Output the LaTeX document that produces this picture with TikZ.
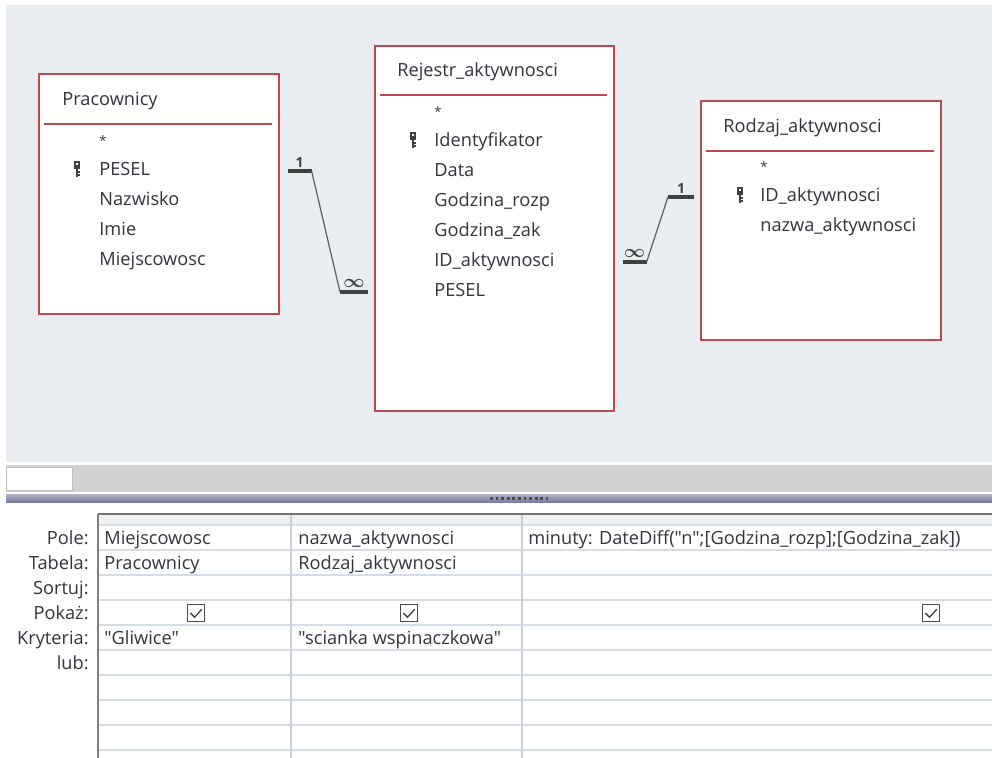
\documentclass[tikz,border=0pt]{standalone}
\usepackage{amsmath}
\usepackage{fontspec}
\setmainfont{Open Sans}[Ligatures=TeXOff]
\usetikzlibrary{positioning}

\definecolor{canvas}{HTML}{E9ECF0}
\definecolor{tblred}{HTML}{B94A50}
\definecolor{txt}{HTML}{33333F}
\definecolor{relgrey}{HTML}{404040}
\definecolor{bandgrey}{HTML}{D1D1D1}
\definecolor{splitlight}{HTML}{ABABC6}
\definecolor{splitdark}{HTML}{74749A}
\definecolor{rowline}{HTML}{D5DBE8}
\definecolor{colline}{HTML}{C9CED8}
\definecolor{gridhead}{HTML}{F0F0F0}

\begin{document}
\begin{tikzpicture}[
  x=0.5pt, y=-0.5pt,
  font=\fontsize{9.1}{11}\selectfont,
  every node/.style={text=txt},
  tbl/.style={draw=tblred, line width=0.8pt, fill=white, anchor=north west, inner sep=0, minimum width=120pt},
  tbltitle/.style={anchor=west, inner sep=0},
  fld/.style={anchor=west, inner sep=0, text height=6.6pt, text depth=1.9pt},
  starfld/.style={fld, font=\fontsize{6.5}{7}\selectfont},
  seprule/.style={draw=tblred, line width=0.8pt},
  bar/.style={draw=relgrey, line width=2.2pt},
  rel/.style={draw=relgrey!85, line width=0.6pt},
  card/.style={font=\fontsize{7}{7}\selectfont\bfseries, text=relgrey, inner sep=0.8pt},
  manycard/.style={card, font=\fontsize{9}{9}\selectfont, inner sep=1.3pt},
  rowlabel/.style={anchor=east, inner sep=0, text height=6.6pt, text depth=1.9pt},
  cell/.style={anchor=west, inner sep=0, text height=6.6pt, text depth=1.9pt},
  chk/.style={draw=black!70, line width=0.75pt, fill=white, minimum size=8.5pt, inner sep=0,
    path picture={\draw[black!75, line width=0.65pt]
      ([xshift=-2.8pt]path picture bounding box.center) -- ++(2.1pt,-2.1pt) -- ++(3.6pt,4pt);}},
  keyicon/.pic={
    \fill[relgrey] (-3.2,-8.5) rectangle (3.2,-1);
    \fill[white] (-1,-7) rectangle (1,-5.3);
    \fill[relgrey] (-1.3,-1) rectangle (1.3,7.5);
    \fill[relgrey] (1.3,1.5) rectangle (3.3,2.9);
    \fill[relgrey] (1.3,4.4) rectangle (3.3,5.8);
  },
]
\useasboundingbox (0,0) rectangle (992,758);

% Design area
\fill[canvas] (6,5) rectangle (992,462);
\fill[bandgrey] (6,465) rectangle (992,492);
\draw[fill=white, draw=black!25] (6,467) rectangle (72,490);
\shade[top color=splitlight, bottom color=splitdark] (6,495) rectangle (992,503);
\draw[black!70, line width=1.5pt, dash pattern=on 1.4pt off 1.4pt] (490,498.5) -- (548,498.5);

% Tables
\node[tbl, minimum height=120pt] (prac) at (38,73) {};
\node[tbl, minimum height=182.5pt, minimum width=119.5pt] (rej) at (374,45) {};
\node[tbl, minimum height=119.5pt] (rodz) at (700,100) {};

% Pracownicy
\node[tbltitle] (prac-title) at (62,101) {Pracownicy};
\draw[seprule] (44,124) -- (272,124);
\node[starfld] (prac-star) at (99,141) {*};
\node[fld, below=15pt of prac-star.west, anchor=west] (prac-pesel) {PESEL};
\node[fld, below=15pt of prac-pesel.west, anchor=west] (prac-nazw) {Nazwisko};
\node[fld, below=15pt of prac-nazw.west, anchor=west] (prac-imie) {Imie};
\node[fld, below=15pt of prac-imie.west, anchor=west] (prac-miej) {Miejscowosc};
\pic at (77,170) {keyicon};

% Rejestr_aktywnosci
\node[tbltitle] (rej-title) at (397,72) {Rejestr\_aktywnosci};
\draw[seprule] (380,95) -- (607,95);
\node[starfld] (rej-star) at (434,112) {*};
\node[fld, below=15pt of rej-star.west, anchor=west] (rej-id) {Identyfikator};
\node[fld, below=15pt of rej-id.west, anchor=west] (rej-data) {Data};
\node[fld, below=15pt of rej-data.west, anchor=west] (rej-rozp) {Godzina\_rozp};
\node[fld, below=15pt of rej-rozp.west, anchor=west] (rej-zak) {Godzina\_zak};
\node[fld, below=15pt of rej-zak.west, anchor=west] (rej-idakt) {ID\_aktywnosci};
\node[fld, below=15pt of rej-idakt.west, anchor=west] (rej-pesel) {PESEL};
\pic at (413,141) {keyicon};

% Rodzaj_aktywnosci
\node[tbltitle] (rodz-title) at (723,128) {Rodzaj\_aktywnosci};
\draw[seprule] (706,151) -- (934,151);
\node[starfld] (rodz-star) at (760,167) {*};
\node[fld, below=15pt of rodz-star.west, anchor=west] (rodz-idakt) {ID\_aktywnosci};
\node[fld, below=15pt of rodz-idakt.west, anchor=west] (rodz-nazwa) {nazwa\_aktywnosci};
\pic at (740,196) {keyicon};

% Relationships
\coordinate (r1s) at ([xshift=4pt]prac.east |- prac-pesel.west);
\coordinate (r1k) at ([xshift=12pt]r1s);
\coordinate (r1e) at ([xshift=-3pt]rej.west |- rej-pesel.west);
\coordinate (r1m) at ([xshift=-14pt]r1e);
\draw[bar] (r1s) -- node[card, above] (r1one) {1} (r1k);
\draw[bar] (r1e) -- node[manycard, above] (r1many) {$\boldsymbol{\infty}$} (r1m);
\draw[rel] (r1k) -- (r1m);

\coordinate (r2s) at ([xshift=4pt]rej.east |- rej-idakt.west);
\coordinate (r2k) at ([xshift=12pt]r2s);
\coordinate (r2e) at ([xshift=-3pt]rodz.west |- rodz-idakt.west);
\coordinate (r2m) at ([xshift=-13pt]r2e);
\draw[bar] (r2s) -- node[manycard, above] (r2many) {$\boldsymbol{\infty}$} (r2k);
\draw[bar] (r2e) -- node[card, above] (r2one) {1} (r2m);
\draw[rel] (r2k) -- (r2m);

% Query grid
\fill[gridhead] (98,514) rectangle (992,525);
\foreach \y in {525,550,...,750}
  \draw[rowline, line width=0.75pt] (98,\y) -- (992,\y);
\draw[colline, line width=0.75pt] (291,514) -- (291,758);
\draw[colline, line width=0.75pt] (522,514) -- (522,758);
\draw[black!55, line width=0.9pt] (98,514) -- (992,514);
\draw[black!50, line width=1pt] (98,514) -- (98,758);

% Row labels
\node[rowlabel] (lbl-pole) at (89,539.5) {Pole:};
\node[rowlabel, below=12.5pt of lbl-pole.east, anchor=east] (lbl-tab) {Tabela:};
\node[rowlabel, below=12.5pt of lbl-tab.east, anchor=east] (lbl-sort) {Sortuj:};
\node[rowlabel, below=12.5pt of lbl-sort.east, anchor=east] (lbl-show) {Pokaż:};
\node[rowlabel, below=12.5pt of lbl-show.east, anchor=east] (lbl-krit) {Kryteria:};
\node[rowlabel, below=12.5pt of lbl-krit.east, anchor=east] (lbl-lub) {lub:};

% Cells
\node[cell] (c1-pole) at (104,539.5) {Miejscowosc};
\node[cell, below=12.5pt of c1-pole.west, anchor=west] (c1-tab) {Pracownicy};
\node[cell] (c1-krit) at (104,639.5) {"Gliwice"};
\node[cell] (c2-pole) at (298,539.5) {nazwa\_aktywnosci};
\node[cell, below=12.5pt of c2-pole.west, anchor=west] (c2-tab) {Rodzaj\_aktywnosci};
\node[cell] (c2-krit) at (298,639.5) {"scianka wspinaczkowa"};
\node[cell] (c3-pole) at (528,539.5) {minuty: DateDiff("n";[Godzina\_rozp];[Godzina\_zak])};

% Show checkboxes
\node[chk] (chk1) at (196,613) {};
\node[chk] (chk2) at (409,613) {};
\node[chk] (chk3) at (931,613) {};

\end{tikzpicture}
\end{document}
